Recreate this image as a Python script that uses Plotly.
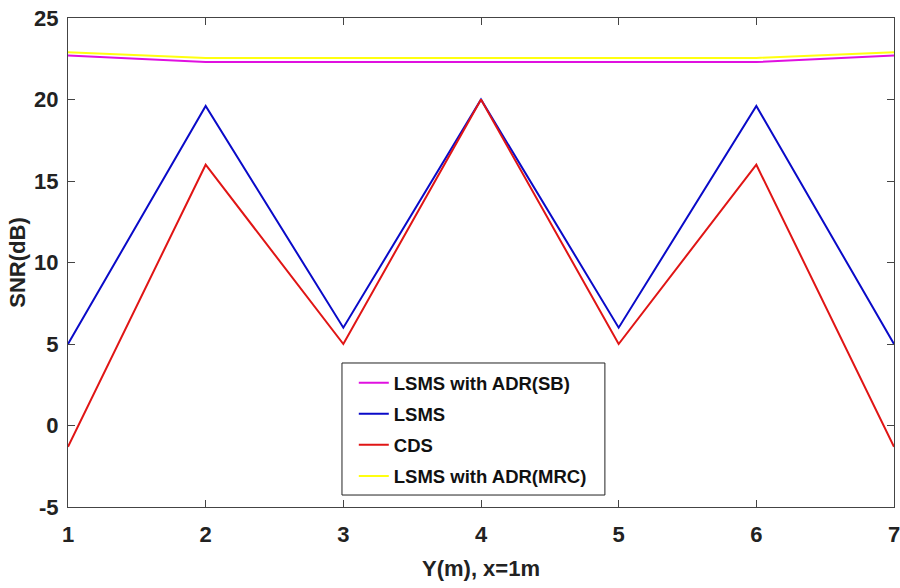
import plotly.graph_objects as go

x_vals = [1, 2, 3, 4, 5, 6, 7]
sb_vals = [22.7, 22.3, 22.3, 22.3, 22.3, 22.3, 22.7]
lsms_vals = [5.0, 19.6, 6.0, 20.0, 6.0, 19.6, 5.0]
cds_vals = [-1.3, 16.0, 5.0, 20.0, 5.0, 16.0, -1.3]
mrc_vals = [22.9, 22.55, 22.55, 22.55, 22.55, 22.55, 22.9]

y_ticks = [-5, 0, 5, 10, 15, 20, 25]
y_ticktext = ["-5", "0", "5", "10", "15", "20", "25"]
x_ticktext = ["1", "2", "3", "4", "5", "6", "7"]

names = ["LSMS with ADR(SB)", "LSMS", "CDS", "LSMS with ADR(MRC)"]
colors = ["#e010e0", "#0a0ac8", "#e01515", "#ffff10"]
series = [sb_vals, lsms_vals, cds_vals, mrc_vals]

fig = go.Figure()
for i, (n, c, s) in enumerate(zip(names, colors, series)):
    fig.add_trace(go.Scatter(x=x_vals, y=s, mode="lines", name=n,
                             legendgroup="g%d" % i,
                             line=dict(color=c, width=2)))

font_fam = "Liberation Sans, Arial"
axis_common = dict(showgrid=False, zeroline=False, showline=True, mirror="ticks",
                   linecolor="#444444", linewidth=1, ticks="inside", ticklen=7,
                   tickcolor="#444444", automargin=False, ticklabeloverflow="allow",
                   tickfont=dict(family=font_fam, size=22, color="#222222", weight="bold"))

fig.update_layout(
    width=900, height=588,
    margin=dict(l=68, r=6, t=18, b=81),
    paper_bgcolor="white", plot_bgcolor="white",
    font=dict(family=font_fam, color="#222222"),
    xaxis=dict(range=[1, 7], tickvals=x_vals, ticktext=x_ticktext, ticklabelstandoff=8,
               **axis_common,
               title=dict(text="Y(m), x=1m", font=dict(family=font_fam, size=22, weight="bold"),
                          standoff=14)),
    yaxis=dict(range=[-5, 25], tickvals=y_ticks, ticktext=y_ticktext, ticklabelstandoff=4,
               **axis_common,
               title=dict(text="SNR(dB)", font=dict(family=font_fam, size=22, weight="bold"),
                          standoff=2)),
    legend=dict(x=0.346, y=0.292, xanchor="left", yanchor="top",
                borderwidth=0, bgcolor="rgba(0,0,0,0)",
                font=dict(family=font_fam, size=18.5, color="#111111", weight="bold"),
                itemwidth=30, tracegroupgap=4, traceorder="grouped"),
    showlegend=True,
    shapes=[dict(type="rect", xref="paper", yref="paper",
                 x0=0.3317, x1=0.650, y0=0.0245, y1=0.2945,
                 line=dict(color="#222222", width=1), fillcolor="white", layer="above")],
)

fig.write_html("out.html", config={"displayModeBar": False},
               post_script="document.body.style.margin='0';document.body.style.overflow='hidden';")
